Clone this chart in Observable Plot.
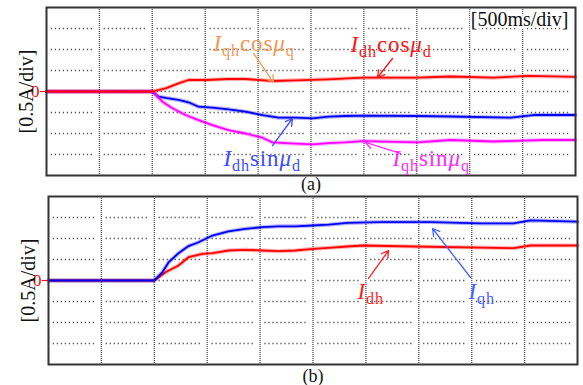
<!DOCTYPE html>
<html><head><meta charset="utf-8">
<script src="https://cdn.jsdelivr.net/npm/d3@7"></script>
<script src="https://cdn.jsdelivr.net/npm/@observablehq/plot@0.6"></script>
<style>
body{margin:0;background:#fff;width:583px;height:385px;overflow:hidden;font-family:"Liberation Serif",serif}
#chart svg{display:block}
</style></head><body><div id="chart"></div>
<script>
// Time base: 500 ms/div, 10 divisions; vertical: 0.5 A/div, 8 divisions
const timeTicks = [0, 500, 1000, 1500, 2000, 2500, 3000, 3500, 4000, 4500, 5000];
const currentTicks = [-2, -1.5, -1, -0.5, 0, 0.5, 1, 1.5, 2];
const zeroTick = [0];

// Panel (a)
const aTimeIdhCos = [0, 1000, 1125, 1248, 1342, 1503, 1720, 1881, 2136, 2353, 2665, 2987, 3500, 3819, 4225, 4546, 5000];
const aIdhCos     = [0, 0, 0.076, 0.195, 0.274, 0.274, 0.298, 0.298, 0.25, 0.267, 0.29, 0.33, 0.33, 0.357, 0.33, 0.37, 0.35];
const aTimeIdhSin = [0, 1000, 1059, 1153, 1248, 1342, 1437, 1569, 1720, 1881, 2042, 2193, 2353, 2514, 2665, 2826, 2987, 3500, 3819, 4386, 4603, 5000];
const aIdhSin     = [0, 0, -0.124, -0.162, -0.202, -0.257, -0.362, -0.386, -0.424, -0.48, -0.56, -0.624, -0.624, -0.638, -0.6, -0.583, -0.576, -0.583, -0.595, -0.624, -0.56, -0.56];
const aTimeIqhSin = [0, 1000, 1096, 1191, 1314, 1437, 1569, 1720, 1881, 2042, 2136, 2259, 2514, 2665, 2826, 2987, 3507, 3819, 4225, 4698, 5000];
const aIqhSin     = [0, 0, -0.243, -0.4, -0.56, -0.68, -0.8, -0.92, -1.0, -1.1, -1.21, -1.23, -1.26, -1.23, -1.21, -1.18, -1.21, -1.155, -1.19, -1.155, -1.155];

// Panel (b)
const bTimeIqh = [0, 1000, 1077, 1134, 1229, 1323, 1418, 1550, 1701, 1862, 2023, 2174, 2335, 2495, 2647, 2826, 3138, 3611, 4083, 4395, 4556, 5000];
const bIqh     = [0, 0, 0.2, 0.43, 0.65, 0.82, 0.91, 1.07, 1.17, 1.23, 1.27, 1.29, 1.29, 1.31, 1.33, 1.37, 1.39, 1.39, 1.36, 1.36, 1.43, 1.40];
const bTimeIdh = [0, 1000, 1106, 1229, 1323, 1456, 1550, 1701, 1862, 2023, 2174, 2335, 2505, 2647, 2826, 2968, 3450, 4395, 4556, 5000];
const bIdh     = [0, 0, 0.198, 0.357, 0.555, 0.636, 0.65, 0.714, 0.73, 0.714, 0.698, 0.714, 0.755, 0.779, 0.81, 0.833, 0.81, 0.77, 0.833, 0.833];

// Annotations (data coordinates: ms, A)
const aLabelText  = ["I_{qh}cosμ_{q}", "I_{dh}cosμ_{d}", "I_{dh}sinμ_{d}", "I_{qh}sinμ_{q}"];
const aLabelTime  = [1578, 2873, 1673, 3270];
const aLabelValue = [0.976, 0.929, -1.762, -1.762];
const aLabelColor = ["#f29a55", "#ff1414", "#3a4dff", "#ff28ff"];
const aArrowFrom  = [[1957, 0.905], [3270, 0.786], [2136, -1.286], [3346, -1.476]];
const aArrowTo    = [[2146, 0.214], [3129, 0.333], [2325, -0.643], [3015, -1.214]];

const bLabelText  = ["I_{dh}", "I_{qh}"];
const bLabelTime  = [2921, 3970];
const bLabelValue = [-0.429, -0.429];
const bLabelColor = ["#ff1e1e", "#4262ff"];
const bArrowFrom  = [[3025, 0.048], [3989, 0.071]];
const bArrowTo    = [[3214, 0.714], [3630, 1.238]];

const rows = (ts, vs) => ts.map((t, i) => ({t, v: vs[i]}));

function richify(svg) {
  d3.select(svg).selectAll("text").each(function () {
    const s = this.textContent;
    if (!s.includes("_{")) return;
    const el = d3.select(this).attr("letter-spacing", "0.9px");
    el.text(null);
    const tokens = s.split(/(_\{[^}]*\})/).filter(Boolean);
    let down = false;
    for (const tok of tokens) {
      if (tok.startsWith("_{")) {
        const ts = el.append("tspan").attr("font-size", "0.7em").text(tok.slice(2, -1));
        if (!down) ts.attr("dy", 5);
        down = true;
      } else {
        const runs = tok.match(/[Iμ]|[^Iμ]+/g);
        for (const r of runs) {
          const ts = el.append("tspan").text(r);
          if (down) { ts.attr("dy", -5); down = false; }
          if (r === "I" || r === "μ") ts.attr("font-style", "italic");
        }
      }
    }
  });
}

function panel({height, marginTop, marginBottom, marginLeft, marginRight, traces, labels, arrows, caption, captionDy, timebase}) {
  const gridV = timeTicks.slice(1, -1);
  const gridH = [];
  for (const v of currentTicks.slice(1, -1))
    for (let i = 0; i < timeTicks.length - 1; i++)
      gridH.push({v, x1: timeTicks[i] + 45, x2: timeTicks[i + 1] - 45});
  const marks = [
    Plot.ruleX(gridV, {stroke: "#555", strokeDasharray: "1,1", strokeWidth: 1.4}),
    Plot.ruleY(gridH, {y: "v", x1: "x1", x2: "x2", stroke: "#555", strokeDasharray: "1.3,2.7", strokeWidth: 1.3}),
  ];
  for (const tr of traces) {
    marks.push(Plot.line(tr.data, {x: "t", y: "v", stroke: tr.color, strokeWidth: 4, strokeOpacity: 0.3}));
    marks.push(Plot.line(tr.data, {x: "t", y: "v", stroke: tr.color, strokeWidth: 1.8}));
  }
  marks.push(
    Plot.frame({stroke: "#333", strokeWidth: 2}),
    Plot.axisY(zeroTick, {tickSize: 6, tickPadding: 1, color: "#ff0000", fontSize: 17, label: null, tickFormat: d => String(d)}),
    Plot.text(["[0.5A/div]"], {frameAnchor: "left", rotate: -90, dx: -20, textAnchor: "middle", lineAnchor: "middle", fontSize: 20, fill: "#111"}),
    Plot.arrow(arrows, {x1: d => d.from[0], y1: d => d.from[1], x2: d => d.to[0], y2: d => d.to[1], stroke: "color", strokeWidth: 1.3, headLength: 9}),
    Plot.text(labels, {x: "t", y: "v", text: "text", fill: "color", textAnchor: "start", lineAnchor: "bottom", fontSize: 23}),
    Plot.text([caption], {frameAnchor: "bottom", lineAnchor: "bottom", dy: captionDy, fontSize: 18, fill: "#111"})
  );
  if (timebase) marks.push(Plot.text([timebase], {frameAnchor: "top-right", textAnchor: "end", lineAnchor: "top", dx: -7, dy: 4, fontSize: 20, fill: "#111", stroke: "white", strokeWidth: 4, paintOrder: "stroke"}));
  const svg = Plot.plot({
    width: 583, height, marginTop, marginBottom, marginLeft, marginRight,
    style: {fontFamily: "'Liberation Serif', 'Times New Roman', serif", background: "white", overflow: "visible"},
    x: {domain: [0, 5000], axis: null},
    y: {domain: [-2, 2]},
    marks
  });
  richify(svg);
  return svg;
}

const labelsA = aLabelText.map((text, i) => ({text, t: aLabelTime[i], v: aLabelValue[i], color: aLabelColor[i]}));
const arrowsA = aArrowFrom.map((from, i) => ({from, to: aArrowTo[i], color: aLabelColor[i]}));
const labelsB = bLabelText.map((text, i) => ({text, t: bLabelTime[i], v: bLabelValue[i], color: bLabelColor[i]}));
const arrowsB = bArrowFrom.map((from, i) => ({from, to: bArrowTo[i], color: bLabelColor[i]}));

const chart = document.getElementById("chart");
chart.append(panel({
  height: 193, marginTop: 7, marginBottom: 18, marginLeft: 46, marginRight: 8,
  traces: [
    {data: rows(aTimeIdhSin, aIdhSin), color: "#0000f0"},
    {data: rows(aTimeIqhSin, aIqhSin), color: "#ff00ff"},
    {data: rows(aTimeIdhCos, aIdhCos), color: "#ff0000"}
  ],
  labels: labelsA, arrows: arrowsA, caption: "(a)", captionDy: 14, timebase: "[500ms/div]"
}));
chart.append(panel({
  height: 192, marginTop: 3, marginBottom: 21, marginLeft: 48, marginRight: 6,
  traces: [
    {data: rows(bTimeIdh, bIdh), color: "#ff0000"},
    {data: rows(bTimeIqh, bIqh), color: "#0000f0"}
  ],
  labels: labelsB, arrows: arrowsB, caption: "(b)", captionDy: 17
}));
</script></body></html>
